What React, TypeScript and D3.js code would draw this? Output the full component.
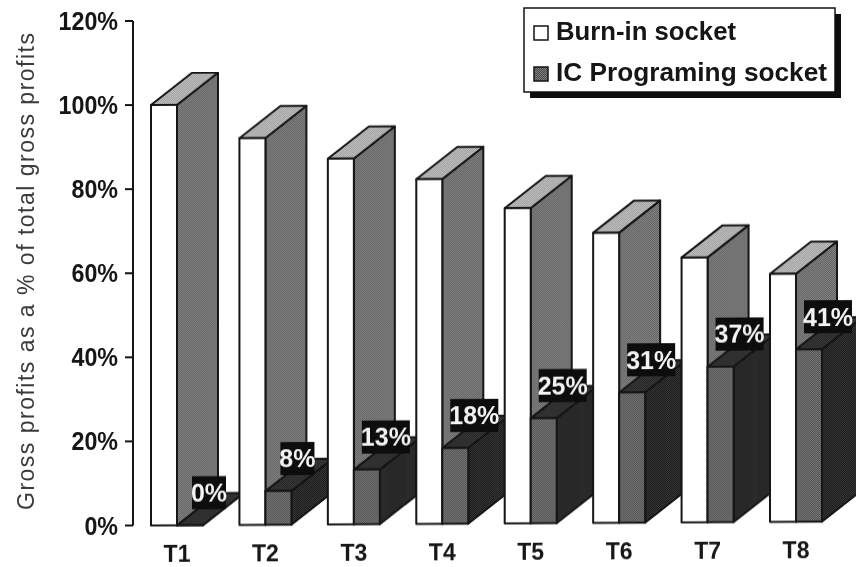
import React from "react";
import * as d3 from "d3";

const categories = ["T1", "T2", "T3", "T4", "T5", "T6", "T7", "T8"];
const burnIn = [100, 92, 87, 82, 75, 69, 63, 59];
const icProgramming = [0, 8, 13, 18, 25, 31, 37, 41];
const yTicks = [0, 20, 40, 60, 80, 100, 120];
const legendLabels = ["Burn-in socket", "IC Programing socket"];
const yTitle = "Gross profits as a % of total gross profits";

const W = 856, H = 567;
const FONT = "'Liberation Sans', Arial, sans-serif";
const INK = "#141414";
const x = d3.scalePoint<string>().domain(categories).range([151, 770]);
const y = d3.scaleLinear().domain([0, 120]).range([525.5, 21]);
const BW = 26, DX = 41, DY = -32;
const SHEAR = -0.0058;

function poly(pts: [number, number][]) {
  return d3.line()(pts)! + "Z";
}

function Box({ x0, y0, y1, front, side, top }: { x0: number; y0: number; y1: number; front: string; side: string; top: string }) {
  const x1 = x0 + BW;
  return (
    <g stroke={INK} strokeWidth={2} strokeLinejoin="round">
      <path d={poly([[x1, y0], [x1 + DX, y0 + DY], [x1 + DX, y1 + DY], [x1, y1]])} fill={side} />
      <path d={poly([[x0, y1], [x0 + DX, y1 + DY], [x1 + DX, y1 + DY], [x1, y1]])} fill={top} />
      <path d={poly([[x0, y0], [x1, y0], [x1, y1], [x0, y1]])} fill={front} />
    </g>
  );
}

function Dither({ id, a, b }: { id: string; a: string; b: string }) {
  return (
    <pattern id={id} width={2} height={2} patternUnits="userSpaceOnUse">
      <rect width={2} height={2} fill={a} />
      <rect width={1} height={1} fill={b} />
      <rect x={1} y={1} width={1} height={1} fill={b} />
    </pattern>
  );
}

function Condensed({ tx, ty, sx, size, anchor, weight, fill, children }: any) {
  return (
    <text
      transform={`translate(${tx},${ty}) scale(${sx},1)`}
      fontFamily={FONT}
      fontSize={size}
      fontWeight={weight ?? "bold"}
      textAnchor={anchor ?? "middle"}
      fill={fill ?? INK}
    >
      {children}
    </text>
  );
}

export default function App() {
  const lx = 524, ly = 8, lw = 311, lh = 84;
  return (
    <svg width={W} height={H} style={{ position: "absolute", left: 0, top: 0, background: "#fff" }}>
      <defs>
        <Dither id="sideWhite" a="#5c5c5c" b="#8a8a8a" />
        <Dither id="topWhite" a="#9a9a9a" b="#c6c6c6" />
        <Dither id="frontIc" a="#484848" b="#808080" />
        <Dither id="sideIc" a="#161616" b="#3c3c3c" />
        <Dither id="topIc" a="#262626" b="#3a3a3a" />
        <filter id="soft" x="-5%" y="-5%" width="110%" height="110%">
          <feGaussianBlur stdDeviation={0.45} />
        </filter>
      </defs>
      <g filter="url(#soft)">
        <text
          transform={`translate(33.5,271.5) rotate(-90)`}
          fontFamily={FONT}
          fontSize={23}
          textAnchor="middle"
          fill="#3a3a3a"
          textLength={477}
        >
          {yTitle}
        </text>
        <line x1={133} x2={133} y1={y(120)} y2={y(0)} stroke={INK} strokeWidth={2} />
        {yTicks.map((t) => (
          <g key={t}>
            <line x1={125} x2={133} y1={y(t)} y2={y(t)} stroke={INK} strokeWidth={2} />
            <Condensed tx={118} ty={y(t) + 9} sx={0.93} size={25} anchor="end">{t}%</Condensed>
          </g>
        ))}
        <g transform={`matrix(1,${SHEAR},0,1,0,${-SHEAR * 151})`}>
          {categories.map((c, i) => {
            const x0 = x(c)!;
            return (
              <g key={c}>
                <Box x0={x0} y0={y(0)} y1={y(burnIn[i])} front="#fff" side="url(#sideWhite)" top="url(#topWhite)" />
                <Box x0={x0 + BW} y0={y(0)} y1={y(icProgramming[i])} front="url(#frontIc)" side="url(#sideIc)" top="url(#topIc)" />
              </g>
            );
          })}
          {categories.map((c, i) => {
            const v = icProgramming[i];
            const label = `${v}%`;
            const w = v < 10 ? 34 : 48;
            const cx = x(c)! + BW + 32;
            const cy = y(v) - 32.5;
            return (
              <g key={c}>
                <rect x={cx - w / 2} y={cy - 16.5} width={w} height={33} fill="#0a0a0a" />
                <Condensed tx={cx} ty={cy + 9} sx={1} size={25} fill="#f4f4f4">{label}</Condensed>
              </g>
            );
          })}
          {categories.map((c) => (
            <Condensed key={c} tx={x(c)! + BW} ty={562} sx={1} size={23}>{c}</Condensed>
          ))}
        </g>
        <rect x={lx + 6} y={ly + 6} width={lw} height={lh} fill="#0a0a0a" />
        <rect x={lx} y={ly} width={lw} height={lh} fill="#fff" stroke={INK} strokeWidth={1.5} />
        {legendLabels.map((l, i) => {
          const sy = 26 + i * 41;
          return (
            <g key={l}>
              <rect x={534} y={sy} width={14} height={14} fill={i === 0 ? "#fff" : "url(#frontIc)"} stroke={INK} strokeWidth={1.5} />
              <text
                x={556}
                y={sy + 14}
                fontFamily={FONT}
                fontSize={26}
                fontWeight="bold"
                fill={INK}
                textLength={i === 0 ? 180 : 271}
                lengthAdjust="spacingAndGlyphs"
              >
                {l}
              </text>
            </g>
          );
        })}
      </g>
    </svg>
  );
}
